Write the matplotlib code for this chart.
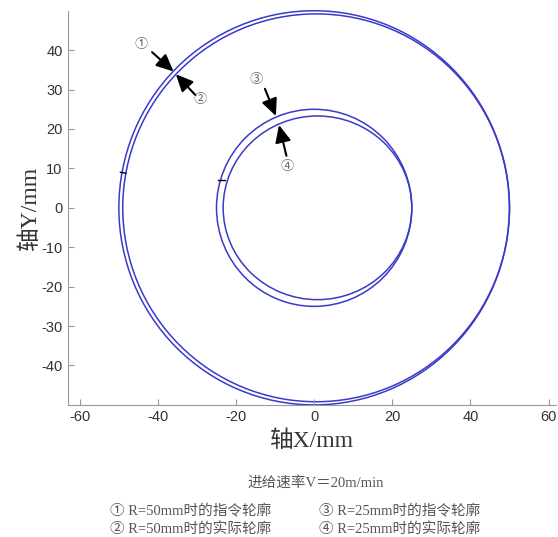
import matplotlib
matplotlib.use('Agg')
import matplotlib.pyplot as plt
from matplotlib.patches import Circle, Ellipse

plt.rcParams['axes.unicode_minus'] = False

# commanded contours (radius, mm)
cmd_radius = [50, 25]
act_cx = [0.5, 0.85]
act_cy = [0.0, 0.0]
act_ax = [49.5, 24.15]
act_ay = [49.2, 23.3]

# start markers on the left of each pair (x0, y0, x1, y1)
mark_x = [[-49.6, -48.2], [-24.6, -22.8]]
mark_y = [[9.0, 8.8], [7.0, 7.0]]

# arrow annotations: label, label pos, tail, tip
arrow_lab = ['①', '②', '③', '④']
lab_x = [-44.2, -29.3, -14.9, -6.8]
lab_y = [41.4, 27.4, 32.5, 10.5]
tail_x = [-41.5, -30.4, -12.6, -7.1]
tail_y = [39.5, 28.6, 30.2, 13.2]
tip_x = [-36.0, -35.4, -9.8, -9.0]
tip_y = [34.6, 33.9, 23.3, 21.0]

xticks = [-60, -40, -20, 0, 20, 40, 60]
yticks = [-40, -30, -20, -10, 0, 10, 20, 30, 40]

legend_rows = [['① R=50mm时的指令轮廓', '③ R=25mm时的指令轮廓'],
               ['② R=50mm时的实际轮廓', '④ R=25mm时的实际轮廓']]
caption = '进给速率V＝20m/min'

blue = '#3a3ac8'
serif = ['Liberation Serif', 'Noto Sans CJK SC']

fig = plt.figure(figsize=(5.58, 5.37), dpi=100)
ax = fig.add_axes([0.122, 0.246, 0.875, 0.734])

for r in cmd_radius:
    ax.add_patch(Circle((0, 0), r, fill=False, ec=blue, lw=1.1, clip_on=False))
for cx, cy, a, b in zip(act_cx, act_cy, act_ax, act_ay):
    ax.add_patch(Ellipse((cx, cy), 2 * a, 2 * b, fill=False, ec=blue, lw=1.1, clip_on=False))

for mx, my in zip(mark_x, mark_y):
    ax.plot(mx, my, color='black', lw=1.0)

for lab, lx, ly, tx, ty, px, py in zip(arrow_lab, lab_x, lab_y, tail_x, tail_y, tip_x, tip_y):
    ax.annotate('', xy=(px, py), xytext=(tx, ty),
                arrowprops=dict(arrowstyle='-|>,head_length=0.65,head_width=0.3',
                                color='black', lw=1.5,
                                mutation_scale=16, shrinkA=0, shrinkB=0))
    ax.text(lx, ly, lab, fontsize=9.5, color='#666666', ha='center', va='center',
            family=['Noto Sans CJK SC'])

ax.set_xlim(-63, 62)
ax.set_ylim(-50, 50)
ax.set_xticks(xticks)
ax.set_yticks(yticks)
ax.tick_params(direction='in', length=4, color='#999999', labelsize=10.5,
               labelcolor='#333333', pad=4)
for t in ax.get_xticklabels() + ax.get_yticklabels():
    t.set_family('Liberation Sans')
for s in ['top', 'right']:
    ax.spines[s].set_visible(False)
for s in ['left', 'bottom']:
    ax.spines[s].set_color('#999999')

ax.set_xlabel('轴X/mm', fontsize=17, family=serif, color='#333333', labelpad=4)
ax.set_ylabel('轴Y/mm', fontsize=17, family=serif, color='#333333', labelpad=0)

fig.text(0.566, 0.100, caption, fontsize=10.5, family=serif, color='#555555',
         ha='center', va='center')
row_y = [0.048, 0.015]
col_x = [0.198, 0.572]
for ry, row in zip(row_y, legend_rows):
    for cx, txt in zip(col_x, row):
        fig.text(cx, ry, txt, fontsize=10.5, family=serif, color='#555555',
                 ha='left', va='center')

fig.savefig('out.png', dpi=100)
